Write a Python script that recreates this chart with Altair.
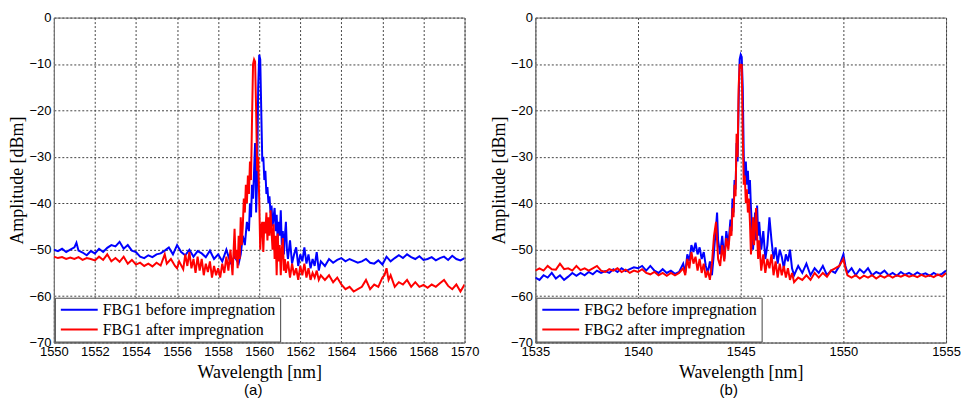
import altair as alt
import pandas as pd

# ---------------- Panel (a): FBG1 ----------------
a_names = ["FBG1 before impregnation", "FBG1 after impregnation"]

a_before_wl = [1550.0, 1550.2, 1550.4, 1550.6, 1550.8, 1551.0, 1551.1, 1551.2, 1551.4, 1551.6, 1551.8,
               1552.0, 1552.2, 1552.4, 1552.6, 1552.8, 1553.0, 1553.2, 1553.4, 1553.6, 1553.8,
               1554.0, 1554.2, 1554.4, 1554.6, 1554.8, 1555.0, 1555.2, 1555.4, 1555.6, 1555.8,
               1556.0, 1556.2, 1556.4, 1556.6, 1556.8, 1557.0, 1557.2, 1557.4, 1557.6, 1557.8,
               1558.0, 1558.2, 1558.4, 1558.6, 1558.8, 1559.0, 1559.1, 1559.2, 1559.3, 1559.4,
               1559.5, 1559.55, 1559.6, 1559.65, 1559.7, 1559.75, 1559.8, 1559.85, 1559.9, 1559.95,
               1560.0, 1560.05, 1560.1, 1560.15, 1560.2, 1560.25, 1560.3, 1560.35, 1560.4, 1560.45,
               1560.5, 1560.55, 1560.6, 1560.65, 1560.7, 1560.75, 1560.8, 1560.85, 1560.9, 1560.95,
               1561.0, 1561.05, 1561.1, 1561.15, 1561.2, 1561.25, 1561.3, 1561.35, 1561.4, 1561.5,
               1561.6, 1561.7, 1561.8, 1561.9, 1562.0, 1562.1, 1562.2, 1562.3, 1562.4, 1562.5,
               1562.6, 1562.7, 1562.8, 1562.9, 1563.0, 1563.2, 1563.4, 1563.6, 1563.8,
               1564.0, 1564.2, 1564.4, 1564.6, 1564.8, 1565.0, 1565.2, 1565.4, 1565.6, 1565.8,
               1566.0, 1566.2, 1566.4, 1566.6, 1566.8, 1567.0, 1567.2, 1567.4, 1567.6, 1567.8,
               1568.0, 1568.2, 1568.4, 1568.6, 1568.8, 1569.0, 1569.2, 1569.4, 1569.6, 1569.8, 1570.0]
a_before_amp = [-50.0, -50.3, -49.8, -50.5, -50.0, -49.5, -48.5, -50.2, -50.6, -51.2, -50.3,
                -50.8, -49.8, -50.5, -49.6, -49.0, -49.3, -48.3, -49.8, -49.0, -50.2,
                -50.5, -51.5, -51.8, -51.2, -51.6, -51.0, -50.8, -50.2, -49.5, -51.0,
                -49.0, -50.5, -51.2, -50.0, -51.5, -50.3, -50.8, -51.6, -50.2, -52.0,
                -51.0, -52.5, -50.0, -52.8, -51.5, -53.0, -51.0, -47.0, -49.0, -44.0,
                -46.0, -40.0, -43.0, -36.0, -39.0, -33.0, -27.0, -42.0, -35.0, -15.0,
                -8.0, -9.0, -20.0, -31.0, -30.0, -35.0, -33.0, -38.0, -36.5, -40.0,
                -38.5, -42.0, -40.5, -45.0, -43.0, -41.0, -46.0, -42.5, -48.0, -44.0,
                -47.0, -41.5, -49.0, -46.0, -51.0, -47.0, -44.0, -50.0, -52.0, -48.0,
                -53.0, -51.0, -49.5, -53.5, -51.0, -52.5, -49.5, -53.0, -51.0, -54.0,
                -52.0, -53.5, -50.5, -54.5, -52.5, -53.5, -52.0, -52.8, -52.2,
                -51.8, -52.5, -52.0, -52.4, -52.8, -52.5, -52.0, -52.8, -53.0, -52.3,
                -53.2, -51.5, -52.5, -51.8, -51.2, -51.8, -51.0, -51.6, -52.0, -51.4,
                -52.2, -52.0, -51.6, -52.3, -51.8, -51.5, -52.2, -51.3, -52.0, -52.3, -51.8]

a_after_wl = [1550.0, 1550.2, 1550.4, 1550.6, 1550.8, 1551.0, 1551.2, 1551.4, 1551.6, 1551.8,
              1552.0, 1552.2, 1552.4, 1552.6, 1552.8, 1553.0, 1553.2, 1553.4, 1553.6, 1553.8,
              1554.0, 1554.2, 1554.4, 1554.6, 1554.8, 1555.0, 1555.2, 1555.4, 1555.5, 1555.7, 1555.9,
              1556.0, 1556.1, 1556.3, 1556.4, 1556.5, 1556.6, 1556.7, 1556.8, 1556.9,
              1557.0, 1557.1, 1557.2, 1557.3, 1557.4, 1557.5, 1557.6, 1557.7, 1557.8, 1557.9,
              1558.0, 1558.1, 1558.2, 1558.3, 1558.4, 1558.5, 1558.6, 1558.7, 1558.8, 1558.85,
              1558.9, 1558.95, 1559.0, 1559.05, 1559.1, 1559.15, 1559.2, 1559.25, 1559.3, 1559.35,
              1559.4, 1559.45, 1559.5, 1559.55, 1559.6, 1559.65, 1559.7, 1559.75, 1559.8, 1559.85,
              1559.9, 1559.95, 1560.0, 1560.05, 1560.1, 1560.15, 1560.2, 1560.25, 1560.3, 1560.35,
              1560.4, 1560.45, 1560.5, 1560.55, 1560.6, 1560.65, 1560.7, 1560.75, 1560.8, 1560.85,
              1560.9, 1560.95, 1561.0, 1561.05, 1561.1, 1561.15, 1561.2, 1561.25, 1561.3, 1561.4,
              1561.5, 1561.6, 1561.7, 1561.8, 1561.9, 1562.0, 1562.1, 1562.2, 1562.3, 1562.4,
              1562.5, 1562.6, 1562.7, 1562.8, 1562.9, 1563.0, 1563.2, 1563.4, 1563.6, 1563.8,
              1564.0, 1564.2, 1564.4, 1564.6, 1564.8, 1565.0, 1565.2, 1565.4, 1565.6, 1565.8,
              1566.0, 1566.1, 1566.2, 1566.3, 1566.4, 1566.6, 1566.8, 1567.0, 1567.2, 1567.4,
              1567.6, 1567.8, 1568.0, 1568.2, 1568.4, 1568.6, 1568.8, 1569.0, 1569.2, 1569.4,
              1569.6, 1569.8, 1570.0]
a_after_amp = [-51.5, -51.8, -51.6, -52.0, -51.7, -52.0, -51.6, -52.2, -51.8, -52.0,
               -52.3, -51.5, -52.2, -51.0, -52.5, -51.8, -52.6, -51.5, -53.0, -52.2,
               -53.2, -52.8, -53.5, -53.0, -53.6, -52.8, -53.4, -51.0, -53.0, -52.0, -53.5,
               -54.0, -52.5, -54.2, -51.0, -53.5, -50.5, -54.0, -52.0, -55.0,
               -51.5, -54.5, -52.0, -55.5, -53.0, -54.8, -52.5, -56.0, -53.5, -55.5,
               -54.0, -56.0, -53.0, -55.0, -51.5, -54.5, -50.0, -55.5, -45.5, -52.0,
               -50.0, -54.0, -47.0, -52.0, -43.0, -49.0, -45.0, -39.0, -42.0, -36.0,
               -40.0, -34.0, -38.0, -31.0, -35.0, -22.0, -10.0, -9.0, -9.5, -20.0,
               -33.0, -30.0, -39.0, -50.0, -45.0, -44.0, -50.5, -44.0, -46.5, -42.0,
               -48.0, -43.0, -47.0, -41.5, -46.0, -50.0, -44.5, -52.0, -47.0, -55.5,
               -46.5, -52.5, -49.0, -55.5, -50.0, -47.5, -54.5, -52.0, -55.0, -52.5,
               -56.0, -53.0, -55.5, -54.0, -56.5, -53.5, -55.5, -53.0, -56.0, -54.0,
               -56.5, -55.0, -56.0, -54.5, -56.5, -55.5, -56.5, -55.5, -57.0, -56.0,
               -57.5, -58.5, -58.0, -59.0, -58.5, -58.0, -56.5, -58.5, -57.5, -58.0,
               -56.0, -55.5, -54.0, -56.5, -55.5, -58.0, -57.0, -57.5, -56.5, -58.0,
               -57.0, -58.0, -57.6, -58.2, -57.5, -58.0, -57.2, -56.5, -57.8, -58.5,
               -57.5, -59.0, -57.5]

# ---------------- Panel (b): FBG2 ----------------
b_names = ["FBG2 before impregnation", "FBG2 after impregnation"]

b_before_wl = [1535.0, 1535.2, 1535.4, 1535.6, 1535.8, 1536.0, 1536.2, 1536.4, 1536.6, 1536.8,
               1537.0, 1537.2, 1537.4, 1537.6, 1537.8, 1538.0, 1538.2, 1538.4, 1538.6, 1538.8,
               1539.0, 1539.2, 1539.4, 1539.6, 1539.8, 1540.0, 1540.2, 1540.4, 1540.6, 1540.8,
               1541.0, 1541.2, 1541.4, 1541.6, 1541.8, 1542.0, 1542.2, 1542.3, 1542.4, 1542.5,
               1542.6, 1542.7, 1542.8, 1542.9, 1543.0, 1543.1, 1543.2, 1543.3, 1543.4, 1543.5,
               1543.6, 1543.7, 1543.8, 1543.85, 1543.9, 1544.0, 1544.1, 1544.2, 1544.3, 1544.4,
               1544.5, 1544.55, 1544.6, 1544.65, 1544.7, 1544.75, 1544.8, 1544.85, 1544.9, 1544.95,
               1545.0, 1545.05, 1545.1, 1545.15, 1545.2, 1545.25, 1545.3, 1545.35, 1545.4, 1545.45,
               1545.5, 1545.55, 1545.6, 1545.65, 1545.7, 1545.75, 1545.8, 1545.85, 1545.9, 1546.0,
               1546.1, 1546.2, 1546.3, 1546.4, 1546.5, 1546.6, 1546.7, 1546.8, 1546.9, 1547.0,
               1547.1, 1547.2, 1547.3, 1547.4, 1547.5, 1547.6, 1547.8, 1548.0, 1548.2, 1548.4,
               1548.6, 1548.8, 1549.0, 1549.2, 1549.4, 1549.6, 1549.8, 1550.0, 1550.1, 1550.2,
               1550.4, 1550.6, 1550.8, 1551.0, 1551.2, 1551.4, 1551.6, 1551.8, 1552.0, 1552.2,
               1552.4, 1552.6, 1552.8, 1553.0, 1553.2, 1553.4, 1553.6, 1553.8, 1554.0, 1554.2,
               1554.4, 1554.6, 1554.8, 1555.0]
b_before_amp = [-56.0, -56.5, -55.5, -56.0, -55.0, -56.2, -55.5, -56.5, -55.8, -55.0,
                -55.6, -55.0, -55.5, -54.8, -55.3, -54.5, -55.0, -54.6, -55.0, -54.2,
                -54.8, -54.0, -54.6, -54.2, -53.8, -54.0, -53.5, -54.5, -53.5, -54.5,
                -55.0, -54.2, -55.0, -54.5, -55.2, -54.8, -53.0, -55.0, -51.0, -52.5,
                -49.0, -50.5, -48.5, -51.0, -49.5, -52.0, -50.5, -53.5, -55.0, -52.5,
                -55.5, -50.5, -45.0, -42.0, -48.0, -51.0, -47.0, -52.0, -46.0, -49.0,
                -43.5, -46.0, -39.0, -42.0, -35.0, -37.0, -27.0, -31.0, -18.0, -9.0,
                -8.0, -8.5, -15.0, -30.0, -34.5, -31.0, -36.0, -33.0, -38.0, -35.0,
                -41.0, -45.0, -50.0, -46.0, -42.0, -48.0, -40.5, -47.0, -44.0, -50.0,
                -46.0, -52.0, -49.0, -43.0, -48.0, -52.0, -49.5, -53.0, -50.0, -51.5,
                -54.0, -51.0, -52.5, -50.0, -54.0, -55.5, -53.5, -55.0, -53.0, -55.5,
                -54.0, -55.0, -53.5, -55.5, -54.5, -55.0, -53.5, -51.0, -53.5, -55.0,
                -54.0, -55.5, -54.2, -55.0, -54.0, -55.5, -54.8, -55.2, -54.5, -55.5,
                -55.0, -55.6, -54.8, -55.4, -55.0, -55.5, -54.9, -55.4, -55.1, -55.6,
                -55.0, -55.5, -55.2, -54.5]

b_after_wl = [1535.0, 1535.2, 1535.4, 1535.6, 1535.8, 1536.0, 1536.2, 1536.4, 1536.6, 1536.8,
              1537.0, 1537.2, 1537.4, 1537.6, 1537.8, 1538.0, 1538.2, 1538.4, 1538.6, 1538.8,
              1539.0, 1539.2, 1539.4, 1539.6, 1539.8, 1540.0, 1540.2, 1540.4, 1540.6, 1540.8,
              1541.0, 1541.2, 1541.4, 1541.6, 1541.8, 1542.0, 1542.2, 1542.3, 1542.4, 1542.5,
              1542.6, 1542.7, 1542.8, 1542.9, 1543.0, 1543.1, 1543.2, 1543.3, 1543.4, 1543.5,
              1543.6, 1543.7, 1543.8, 1543.85, 1543.9, 1544.0, 1544.1, 1544.2, 1544.3, 1544.4,
              1544.5, 1544.55, 1544.6, 1544.65, 1544.7, 1544.75, 1544.8, 1544.85, 1544.9, 1544.95,
              1545.0, 1545.05, 1545.1, 1545.15, 1545.2, 1545.25, 1545.3, 1545.35, 1545.4, 1545.45,
              1545.5, 1545.55, 1545.6, 1545.65, 1545.7, 1545.75, 1545.8, 1545.85, 1545.9, 1546.0,
              1546.1, 1546.2, 1546.3, 1546.4, 1546.5, 1546.6, 1546.7, 1546.8, 1546.9, 1547.0,
              1547.1, 1547.2, 1547.3, 1547.4, 1547.5, 1547.6, 1547.8, 1548.0, 1548.2, 1548.4,
              1548.6, 1548.8, 1549.0, 1549.2, 1549.4, 1549.6, 1549.8, 1550.0, 1550.1, 1550.2,
              1550.4, 1550.6, 1550.8, 1551.0, 1551.2, 1551.4, 1551.6, 1551.8, 1552.0, 1552.2,
              1552.4, 1552.6, 1552.8, 1553.0, 1553.2, 1553.4, 1553.6, 1553.8, 1554.0, 1554.2,
              1554.4, 1554.6, 1554.8, 1555.0]
b_after_amp = [-54.5, -54.0, -54.5, -53.5, -54.2, -54.3, -53.0, -54.2, -54.0, -54.5,
               -53.5, -54.4, -54.0, -54.5, -54.0, -53.5, -54.5, -54.8, -54.2, -54.5,
               -54.0, -54.8, -54.3, -55.0, -54.5, -54.8, -54.2, -55.0, -55.3, -54.8,
               -55.5, -55.0, -55.6, -55.0, -55.5, -55.0, -54.0, -55.5, -52.0, -54.0,
               -50.5, -53.0, -51.5, -54.5, -52.0, -55.0, -53.0, -56.0, -54.5, -56.5,
               -53.0, -47.0, -44.0, -48.0, -52.0, -53.5, -49.0, -52.5, -47.5, -50.0,
               -45.0, -47.0, -41.0, -43.0, -36.0, -38.5, -25.0, -30.0, -15.0, -10.0,
               -11.0, -10.0, -25.0, -36.0, -34.0, -40.0, -37.0, -42.0, -39.0, -44.0,
               -51.0, -47.0, -43.0, -49.0, -45.0, -41.0, -47.0, -52.0, -48.0, -54.5,
               -51.0, -55.0, -52.0, -54.0, -51.0, -55.5, -52.5, -56.0, -53.0, -55.5,
               -53.5, -56.0, -54.0, -56.5, -55.0, -57.0, -56.0, -56.5, -55.5, -56.5,
               -55.0, -56.0, -55.0, -55.8, -54.5, -54.0, -53.5, -52.0, -54.0, -55.5,
               -56.0, -55.5, -56.2, -55.6, -56.0, -55.5, -56.2, -55.6, -56.0, -55.5,
               -56.0, -55.5, -55.8, -55.4, -55.8, -55.5, -55.9, -55.4, -55.8, -55.5,
               -55.9, -55.3, -55.8, -55.0]

y_ticks = [-70, -60, -50, -40, -30, -20, -10, 0]
a_xticks = [1550, 1552, 1554, 1556, 1558, 1560, 1562, 1564, 1566, 1568, 1570]
b_xticks = [1535, 1540, 1545, 1550, 1555]
line_colors = ["#0000ff", "#ff0000"]


def panel(bw, ba, aw, aa, names, xticks, tag, tag_dx):
    df_b = pd.DataFrame({"wl": bw, "amp": ba, "series": names[0]})
    df_a = pd.DataFrame({"wl": aw, "amp": aa, "series": names[1]})
    x = alt.X("wl:Q", scale=alt.Scale(domain=[xticks[0], xticks[-1]], nice=False, zero=False),
              axis=alt.Axis(values=xticks, format="d", title="Wavelength [nm]",
                            labelPadding=3, titlePadding=5))
    y = alt.Y("amp:Q", scale=alt.Scale(domain=[-70, 0], nice=False),
              axis=alt.Axis(values=y_ticks, format="d", title="Amplitude [dBm]",
                            labelPadding=3, titlePadding=2))
    color = alt.Color("series:N", sort=names,
                      scale=alt.Scale(domain=names, range=line_colors),
                      legend=alt.Legend(title=None, orient="bottom-left", offset=1,
                                        symbolType="M-2,0H10.33", symbolStrokeWidth=2,
                                        symbolSize=36, symbolFillColor="transparent",
                                        labelFont="Liberation Serif", labelLimit=400,
                                        labelFontSize=16, labelColor="black",
                                        strokeColor="#444", fillColor="white",
                                        padding=4, rowPadding=4, labelOffset=28,
                                        cornerRadius=0))
    blue = alt.Chart(df_b).mark_line(strokeWidth=2, clip=True).encode(x=x, y=y, color=color)
    red = alt.Chart(df_a).mark_line(strokeWidth=2, clip=True).encode(x=x, y=y, color=color)
    return alt.layer(blue, red).properties(
        width=412, height=326,
        title=alt.TitleParams(tag, orient="bottom", font="Liberation Sans", fontSize=15,
                              fontWeight="normal", color="black", offset=2, dx=tag_dx))


left = panel(a_before_wl, a_before_amp, a_after_wl, a_after_amp, a_names, a_xticks, "(a)", -6)
right = panel(b_before_wl, b_before_amp, b_after_wl, b_after_amp, b_names, b_xticks, "(b)", -12)

chart = alt.hconcat(left, right, spacing=10).resolve_scale(color="independent").resolve_legend(
    color="independent"
).properties(
    padding={"left": 0, "top": 2, "right": 0, "bottom": 0}
).configure_view(stroke="#777", strokeWidth=1).configure_axis(
    labelFont="Liberation Sans", labelFontSize=13, labelColor="black",
    titleFont="Liberation Serif", titleFontSize=18, titleFontWeight="normal", titleColor="black",
    gridDash=[2, 2], gridColor="#444", gridOpacity=1, gridWidth=1,
    domainColor="#777", ticks=False, labelFlush=False, labelOverlap=False
)

chart.save("out.html", embed_options={"renderer": "svg", "actions": False})
